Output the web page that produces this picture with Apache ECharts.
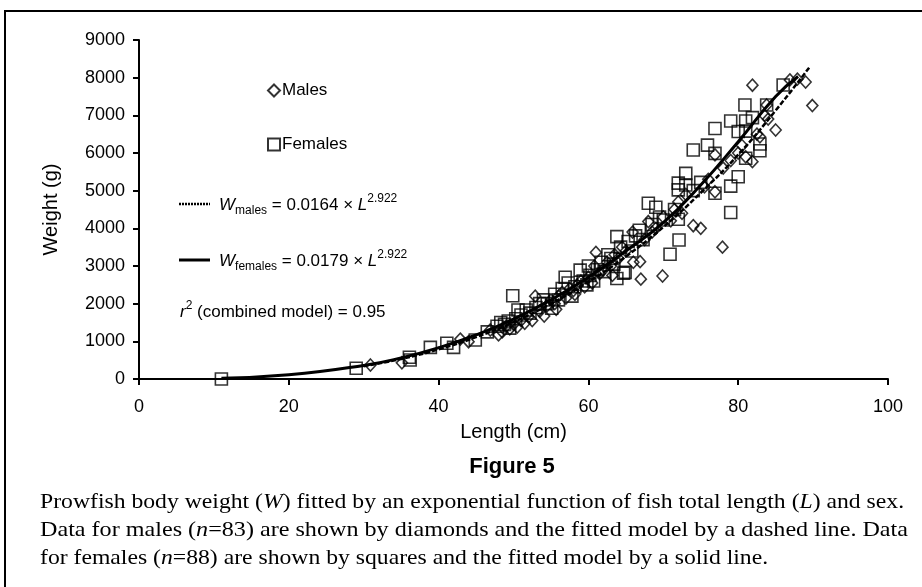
<!DOCTYPE html>
<html>
<head>
<meta charset="utf-8">
<script src="https://cdn.jsdelivr.net/npm/echarts@6/dist/echarts.min.js"></script>
<style>
  html, body { margin: 0; padding: 0; background: #fff; }
  #chart { width: 922px; height: 587px; }
</style>
</head>
<body>
<div id="chart"></div>
<script>
// tick labels
const xTicks = [0, 20, 40, 60, 80, 100];
const yTicks = [0, 1000, 2000, 3000, 4000, 5000, 6000, 7000, 8000, 9000];

// males: [length cm, weight g] (diamonds)
const males = [
  [30.9, 372], [35.1, 430], [42.9, 1060], [44.0, 990], [46.9, 1300], [48.0, 1170],
  [48.5, 1250], [49.0, 1400], [49.5, 1330], [50.0, 1450], [50.5, 1380], [51.0, 1550],
  [51.5, 1480], [52.0, 1650], [52.9, 2200], [53.5, 1800], [54.1, 1670], [54.5, 1950],
  [55.0, 2100], [55.5, 2000], [56.0, 2200], [56.5, 2300], [57.0, 2150], [57.5, 2400],
  [58.0, 2350], [58.5, 2500], [59.0, 2600], [59.5, 2450], [60.0, 2700], [60.5, 2550],
  [61.0, 3360], [61.5, 2800], [62.0, 2900], [62.5, 3100], [63.0, 3000], [63.5, 3300],
  [64.0, 3200], [64.5, 3500], [65.0, 3400], [65.9, 3900], [66.0, 3100], [66.9, 3115],
  [67.0, 2650], [67.5, 3700], [68.0, 4180], [68.5, 3900], [69.0, 4000], [69.9, 2735],
  [70.0, 4300], [71.0, 4200], [71.5, 4500], [72.0, 4700], [72.5, 4400], [73.0, 4900],
  [74.0, 4070], [75.0, 4000], [75.5, 5100], [76.0, 5300], [76.9, 4970], [76.9, 5950],
  [77.9, 3500], [78.0, 5600], [79.0, 5800], [80.0, 6000], [80.5, 6200], [81.0, 5900],
  [81.9, 5770], [81.9, 7800], [82.5, 6500], [82.9, 6430], [83.5, 7000], [83.8, 7275],
  [84.0, 6900], [85.0, 6610], [86.9, 7940], [87.9, 7960], [89.0, 7885], [89.9, 7260],
  [58.2, 2250], [60.8, 3000], [63.2, 2750], [52.5, 1550], [55.7, 1850]
];

// females: [length cm, weight g] (squares)
const females = [
  [11.0, 0], [29.0, 284], [36.2, 504], [36.1, 576], [38.9, 840], [41.1, 950],
  [42.0, 840], [44.9, 1035], [47.8, 1400], [48.3, 1500], [48.8, 1450], [49.3, 1540],
  [49.5, 1350], [49.9, 2210], [50.3, 1600], [50.6, 1830], [51.0, 1700], [51.7, 1830],
  [52.2, 1750], [53.0, 1900], [53.5, 2000], [54.0, 2100], [55.1, 1880], [55.5, 2250],
  [56.0, 2100], [56.5, 2400], [56.9, 2700], [57.3, 2550], [57.8, 2200], [58.2, 2450],
  [58.9, 2890], [59.3, 2600], [59.8, 2500], [60.2, 2750], [60.7, 2600], [61.2, 2900],
  [61.7, 3100], [62.1, 2850], [62.6, 3300], [63.0, 3200], [63.4, 3050], [63.8, 2670],
  [63.8, 3780], [64.3, 3500], [64.7, 2810], [64.9, 2830], [65.3, 3650], [65.8, 3400],
  [66.3, 3800], [66.8, 3950], [67.3, 3700], [68.0, 4665], [68.5, 4100], [69.0, 4560],
  [69.5, 4300], [70.0, 4220], [70.9, 3310], [71.5, 4500], [72.0, 5200], [72.0, 5020],
  [72.0, 4240], [72.1, 3690], [73.0, 5460], [73.0, 5150], [74.0, 5000], [74.0, 6080],
  [75.0, 5220], [75.9, 6210], [76.9, 6650], [76.9, 5990], [76.9, 4930], [79.0, 6850],
  [79.0, 5120], [79.0, 4420], [80.0, 6570], [80.0, 5370], [80.9, 7275], [81.0, 6850],
  [81.0, 6580], [81.0, 5860], [81.9, 6940], [82.9, 6240], [82.9, 6060], [83.8, 7275],
  [86.0, 7806], [46.5, 1250], [54.5, 2000], [60.0, 3000]
];

// fitted curves
const maleFitX = [30, 35, 40, 45, 50, 55, 60, 65, 70, 75, 80, 85, 89.6];
const maleFitY = [340, 533, 787, 1112, 1512, 1997, 2575, 3252, 4035, 4945, 5955, 7129, 8300];
const femaleFitX = [11, 20, 30, 35, 40, 45, 50, 55, 60, 65, 70, 75, 80, 85, 88];
const femaleFitY = [20, 110, 360, 560, 830, 1170, 1590, 2100, 2700, 3400, 4150, 5150, 6300, 7500, 8030];

const captionLines = [
  "Prowfish body weight ({i|W}) fitted by an exponential function of fish total length ({i|L}) and sex.",
  "Data for males ({i|n}=83) are shown by diamonds and the fitted model by a dashed line. Data",
  "for females ({i|n}=88) are shown by squares and the fitted model by a solid line."
];

const SANS = '"Liberation Sans", Arial, sans-serif';
const SERIF = '"Liberation Serif", "Times New Roman", serif';

const el = document.getElementById("chart");
const myChart = echarts.init(el, null, { renderer: "canvas" });

// measure caption width so it can be squeezed like the condensed original
const measure = (s, size) => {
  const ctx = document.createElement("canvas").getContext("2d");
  ctx.font = size + "px " + SERIF;
  return ctx.measureText(s.replace(/\{i\|([^}]*)\}/g, "$1")).width;
};
const capSize = 22;
const capScale1 = 868 / measure(captionLines[0], capSize);
const capScale2 = 868 / measure(captionLines[1], capSize);

const zip = (xs, ys) => xs.map((x, i) => [x, ys[i]]);

const eqRich = {
  i: { fontStyle: "italic", fontSize: 17, fontFamily: SANS, lineHeight: 24 },
  sub: { fontSize: 12, fontFamily: SANS, verticalAlign: "bottom", lineHeight: 12 },
  sup: { fontSize: 12, fontFamily: SANS, verticalAlign: "top", lineHeight: 12 },
  n: { fontSize: 17, fontFamily: SANS, lineHeight: 24 }
};

const captionText = (line, y, scale) => ({
  type: "text",
  x: 40,
  y: y,
  scaleX: scale,
  style: {
    text: line,
    font: capSize + "px " + SERIF,
    rich: { i: { fontStyle: "italic", fontSize: capSize, fontFamily: SERIF } },
    fill: "#000",
    verticalAlign: "middle",
    textVerticalAlign: "middle"
  }
});

const option = {
  backgroundColor: "#fff",
  animation: false,
  grid: { left: 139, right: 34, top: 40, bottom: 208 },
  legend: {
    data: ["Males", "Females"],
    orient: "vertical",
    left: 267,
    top: 82,
    padding: 0,
    itemGap: 37,
    itemWidth: 12,
    itemHeight: 12,
    textStyle: { fontSize: 17, fontFamily: SANS, color: "#000", padding: [0, 0, 0, -3] }
  },
  xAxis: {
    type: "value",
    min: xTicks[0],
    max: xTicks[xTicks.length - 1],
    interval: 20,
    name: "Length (cm)",
    nameLocation: "middle",
    nameGap: 43,
    nameTextStyle: { fontSize: 20, fontFamily: SANS, color: "#000" },
    axisLine: { onZero: false, lineStyle: { color: "#000", width: 2 } },
    axisTick: { show: true, inside: false, length: 6, lineStyle: { color: "#000", width: 2 } },
    axisLabel: { fontSize: 18, fontFamily: SANS, color: "#000", margin: 19 },
    splitLine: { show: false }
  },
  yAxis: {
    type: "value",
    min: yTicks[0],
    max: yTicks[yTicks.length - 1],
    interval: 1000,
    name: "Weight (g)",
    nameLocation: "middle",
    nameGap: 78,
    nameTextStyle: { fontSize: 20, fontFamily: SANS, color: "#000" },
    axisLine: { show: true, lineStyle: { color: "#000", width: 2 } },
    axisTick: { show: true, inside: false, length: 6, lineStyle: { color: "#000", width: 2 } },
    axisLabel: {
      fontSize: 18,
      fontFamily: SANS,
      color: "#000",
      margin: 14,
      formatter: (v) => String(v)
    },
    splitLine: { show: false }
  },
  series: [
    {
      name: "Males",
      type: "scatter",
      symbol: "diamond",
      symbolSize: [11, 12],
      itemStyle: { color: "rgba(0,0,0,0)", borderColor: "#000", borderWidth: 1.6 },
      data: males,
      z: 2
    },
    {
      name: "Females",
      type: "scatter",
      symbol: "rect",
      symbolSize: 12,
      itemStyle: { color: "rgba(0,0,0,0)", borderColor: "#000", borderWidth: 1.6 },
      data: females,
      z: 2
    },
    {
      name: "males fit",
      type: "line",
      smooth: true,
      showSymbol: false,
      symbol: "none",
      lineStyle: { color: "#000", width: 2.5, type: [5, 2] },
      data: zip(maleFitX, maleFitY),
      z: 3
    },
    {
      name: "females fit",
      type: "line",
      smooth: true,
      showSymbol: false,
      symbol: "none",
      lineStyle: { color: "#000", width: 3 },
      data: zip(femaleFitX, femaleFitY),
      z: 3
    }
  ],
  graphic: [
    // frame round the figure
    {
      type: "rect",
      shape: { x: 5, y: 11, width: 940, height: 600 },
      style: { fill: "none", stroke: "#000", lineWidth: 2 },
      silent: true
    },
    // fitted-line keys
    {
      type: "line",
      shape: { x1: 179, y1: 204, x2: 210, y2: 204 },
      style: { stroke: "#000", lineWidth: 2.5, lineDash: [2, 1] }
    },
    {
      type: "text",
      x: 219,
      y: 205,
      style: {
        text: "{i|W}{sub|males}{n| = 0.0164 × }{i|L}{sup|2.922}",
        rich: eqRich,
        fill: "#000",
        verticalAlign: "middle",
        textVerticalAlign: "middle"
      }
    },
    {
      type: "line",
      shape: { x1: 179, y1: 260, x2: 210, y2: 260 },
      style: { stroke: "#000", lineWidth: 3 }
    },
    {
      type: "text",
      x: 219,
      y: 261,
      style: {
        text: "{i|W}{sub|females}{n| = 0.0179 × }{i|L}{sup|2.922}",
        rich: eqRich,
        fill: "#000",
        verticalAlign: "middle",
        textVerticalAlign: "middle"
      }
    },
    {
      type: "text",
      x: 180,
      y: 312,
      style: {
        text: "{i|r}{sup|2}{n| (combined model) = 0.95}",
        rich: eqRich,
        fill: "#000",
        verticalAlign: "middle",
        textVerticalAlign: "middle"
      }
    },
    // figure number and caption
    {
      type: "text",
      x: 512,
      y: 467,
      style: {
        text: "Figure 5",
        font: "bold 22px " + SANS,
        fill: "#000",
        align: "center",
        textAlign: "center",
        verticalAlign: "middle",
        textVerticalAlign: "middle"
      }
    },
    captionText(captionLines[0], 502, capScale1),
    captionText(captionLines[1], 530, capScale2),
    captionText(captionLines[2], 558, capScale1)
  ]
};

myChart.setOption(option);
</script>
</body>
</html>
